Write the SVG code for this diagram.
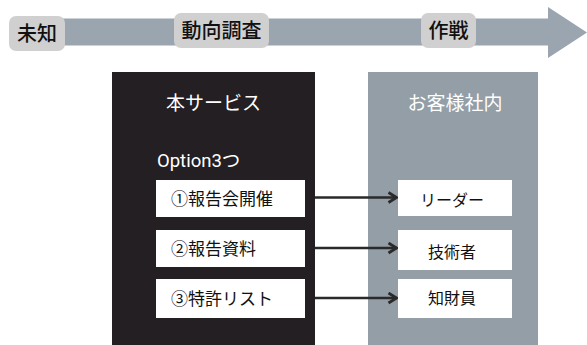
<svg xmlns="http://www.w3.org/2000/svg" width="587" height="345" viewBox="0 0 587 345">
<style>
.lbl{fill:#d0d0d0}
.lt{font-family:"Noto Sans CJK JP","Noto Sans",sans-serif;font-size:20px;font-weight:500;fill:#111;text-anchor:middle}
.wb{fill:#ffffff}
.t{font-family:"Noto Sans CJK JP","Noto Sans",sans-serif;font-size:16px;fill:#111;text-anchor:middle}
.tl{font-family:"Noto Sans CJK JP","Noto Sans",sans-serif;font-size:17px;fill:#111}
.h{font-family:"Noto Sans CJK JP","Noto Sans",sans-serif;fill:#fff;text-anchor:middle}
.c{stroke:#2a2a2a;stroke-width:2.5;fill:none}
</style>
<defs>
<marker id="ah" viewBox="0 0 11 13" refX="10" refY="6.5" markerWidth="11" markerHeight="13" markerUnits="userSpaceOnUse" orient="auto">
<path d="M1.5,1.5 L9.5,6.5 L1.5,11.5" fill="none" stroke="#2a2a2a" stroke-width="2.8"/>
</marker>
</defs>
<g id="timeline">
<rect x="40" y="18.5" width="509" height="27" fill="#9aa5b0"/>
<polygon points="548,7 587,32.5 548,58" fill="#9aa5b0"/>
</g>
<g id="label-michi">
<rect class="lbl" x="9" y="16" width="56" height="35" rx="7"/>
<text class="lt" x="37" y="40.5">未知</text>
</g>
<g id="label-doko">
<rect class="lbl" x="174" y="13" width="95" height="35" rx="7"/>
<text class="lt" x="221.5" y="37.5">動向調査</text>
</g>
<g id="label-sakusen">
<rect class="lbl" x="421" y="13" width="55" height="35" rx="7"/>
<text class="lt" x="448.5" y="37.5">作戦</text>
</g>
<g id="service">
<rect x="112" y="72" width="203" height="273" fill="#231f22"/>
<text class="h" x="213.5" y="110" font-size="19">本サービス</text>
<text x="157" y="167" font-size="18.5" font-family="Roboto,'Noto Sans CJK JP',sans-serif" fill="#fff">Option3つ</text>
</g>
<g id="client">
<rect x="368" y="72" width="170" height="273" fill="#939ea7"/>
<text class="h" x="455" y="110" font-size="19">お客様社内</text>
</g>
<g id="opt1">
<rect class="wb" x="156" y="180" width="149" height="37"/>
<text class="tl" x="171" y="204.5">①報告会開催</text>
</g>
<g id="opt2">
<rect class="wb" x="156" y="230" width="149" height="37"/>
<text class="tl" x="171" y="254.5">②報告資料</text>
</g>
<g id="opt3">
<rect class="wb" x="156" y="279" width="149" height="39"/>
<text class="tl" x="171" y="304.5">③特許リスト</text>
</g>
<g id="leader">
<rect class="wb" x="398" y="180" width="114" height="36"/>
<text class="t" x="452" y="206">リーダー</text>
</g>
<g id="engineer">
<rect class="wb" x="398" y="230" width="114" height="40"/>
<text class="t" x="452" y="258">技術者</text>
</g>
<g id="ip">
<rect class="wb" x="398" y="279" width="114" height="39"/>
<text class="t" x="452" y="304">知財員</text>
</g>
<g id="connectors">
<line class="c" x1="315" y1="197.5" x2="397" y2="197.5" marker-end="url(#ah)"/>
<line class="c" x1="315" y1="248" x2="397" y2="248" marker-end="url(#ah)"/>
<line class="c" x1="315" y1="298" x2="397" y2="298" marker-end="url(#ah)"/>
</g>
</svg>
